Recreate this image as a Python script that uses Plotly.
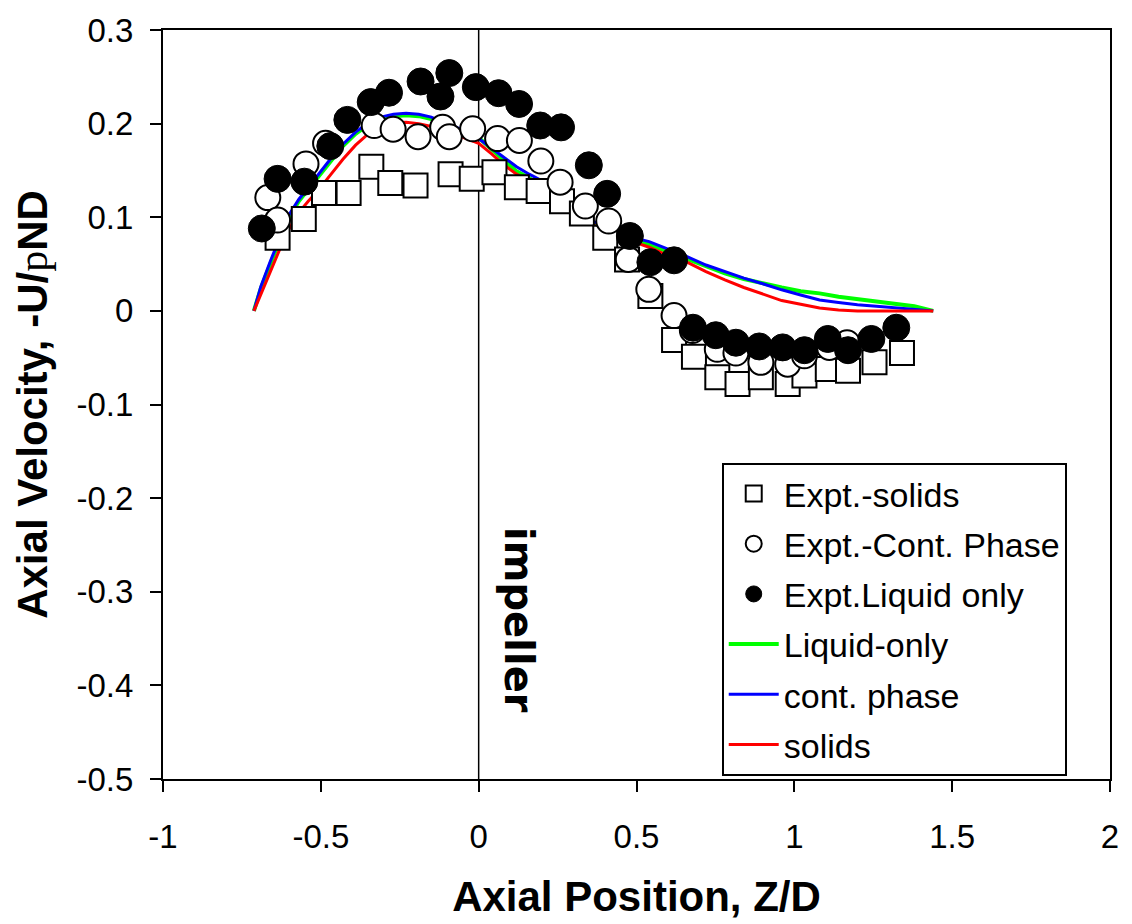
import plotly.graph_objects as go

# ---------------- data ----------------
solids_x = [-0.637, -0.554, -0.490, -0.412, -0.340, -0.280, -0.200, -0.089, -0.022, 0.050,
            0.121, 0.190, 0.264, 0.327, 0.401, 0.470, 0.544, 0.619, 0.682, 0.756,
            0.820, 0.894, 0.979, 1.032, 1.106, 1.170, 1.254, 1.341]
solids_y = [0.078, 0.098, 0.126, 0.126, 0.154, 0.1365, 0.134, 0.146, 0.141, 0.148,
            0.132, 0.128, 0.117, 0.104, 0.078, 0.055, 0.016, -0.031, -0.049, -0.071,
            -0.078, -0.071, -0.078, -0.069, -0.062, -0.064, -0.055, -0.045]

cont_x = [-0.668, -0.637, -0.547, -0.485, -0.331, -0.271, -0.192, -0.114, -0.093, -0.019,
          0.060, 0.129, 0.197, 0.258, 0.338, 0.412, 0.474, 0.539, 0.619, 0.677,
          0.756, 0.815, 0.894, 0.979, 1.032, 1.111, 1.167]
cont_y = [0.121, 0.097, 0.157, 0.179, 0.198, 0.194, 0.186, 0.196, 0.186, 0.1945,
          0.184, 0.182, 0.160, 0.1375, 0.112, 0.096, 0.055, 0.023, -0.005, -0.021,
          -0.041, -0.045, -0.055, -0.057, -0.048, -0.039, -0.034]

liq_x = [-0.687, -0.637, -0.552, -0.470, -0.416, -0.342, -0.284, -0.184, -0.121, -0.093,
         -0.009, 0.063, 0.128, 0.195, 0.261, 0.349, 0.407, 0.479, 0.544, 0.619,
         0.679, 0.751, 0.815, 0.889, 0.963, 1.032, 1.106, 1.170, 1.244, 1.323]
liq_y = [0.088, 0.141, 0.138, 0.176, 0.204, 0.223, 0.233, 0.245, 0.229, 0.254,
         0.239, 0.2325, 0.221, 0.198, 0.196, 0.1555, 0.125, 0.080, 0.052, 0.054,
         -0.018, -0.026, -0.034, -0.038, -0.039, -0.042, -0.030, -0.042, -0.030, -0.018]

sim_x = [-0.712, -0.69, -0.66, -0.63, -0.6, -0.57, -0.54, -0.51, -0.47, -0.43,
         -0.39, -0.35, -0.31, -0.27, -0.23, -0.19, -0.15, -0.11, -0.07, -0.03,
         0.0, 0.04, 0.08, 0.12, 0.16, 0.2, 0.25, 0.3, 0.36, 0.42,
         0.48, 0.54, 0.6, 0.66, 0.72, 0.78, 0.84, 0.9, 0.96, 1.02,
         1.08, 1.14, 1.2, 1.26, 1.32, 1.38, 1.44]
sim_liquid_y = [0.0, 0.024, 0.050, 0.076, 0.100, 0.117, 0.130, 0.143, 0.160, 0.176,
                0.189, 0.199, 0.205, 0.208, 0.209, 0.208, 0.205, 0.200, 0.195, 0.190,
                0.185, 0.173, 0.160, 0.149, 0.142, 0.133, 0.120, 0.106, 0.094, 0.085,
                0.077, 0.071, 0.063, 0.055, 0.047, 0.040, 0.034, 0.029, 0.025, 0.021,
                0.0187, 0.015, 0.0125, 0.011, 0.008, 0.005, 0.0]
sim_cont_y = [0.0, 0.026, 0.053, 0.079, 0.103, 0.119, 0.132, 0.145, 0.162, 0.178,
              0.191, 0.201, 0.207, 0.210, 0.211, 0.210, 0.207, 0.201, 0.196, 0.190,
              0.184, 0.174, 0.164, 0.154, 0.146, 0.139, 0.124, 0.109, 0.096, 0.087,
              0.079, 0.074, 0.066, 0.058, 0.049, 0.042, 0.035, 0.029, 0.0225, 0.017,
              0.0116, 0.009, 0.0065, 0.005, 0.0035, 0.002, 0.0]
sim_solids_y = [0.0, 0.018, 0.042, 0.066, 0.088, 0.105, 0.117, 0.128, 0.145, 0.162,
                0.177, 0.189, 0.197, 0.201, 0.2015, 0.200, 0.197, 0.193, 0.188, 0.183,
                0.179, 0.168, 0.156, 0.146, 0.139, 0.131, 0.118, 0.104, 0.092, 0.083,
                0.075, 0.068, 0.059, 0.052, 0.042, 0.033, 0.025, 0.018, 0.011, 0.007,
                0.003, 0.001, 0.0, 0.0, 0.0, 0.0, 0.0]

x_tickvals = [-1, -0.5, 0, 0.5, 1, 1.5, 2]
x_ticktext = ["-1", "-0.5", "0", "0.5", "1", "1.5", "2"]
y_tickvals = [0.3, 0.2, 0.1, 0, -0.1, -0.2, -0.3, -0.4, -0.5]
y_ticktext = ["0.3", "0.2", "0.1", "0", "-0.1", "-0.2", "-0.3", "-0.4", "-0.5"]

FONT = "Arial, 'Liberation Sans', sans-serif"

fig = go.Figure()

# simulation lines (drawn first, so markers sit on top)
fig.add_trace(go.Scatter(x=sim_x, y=sim_liquid_y, mode="lines", name="Liquid-only",
                         legendgroup="d", legendrank=4,
                         line=dict(color="#00ff00", width=4)))
fig.add_trace(go.Scatter(x=sim_x, y=sim_cont_y, mode="lines", name="cont. phase",
                         legendgroup="e", legendrank=5,
                         line=dict(color="#0000ff", width=3)))
fig.add_trace(go.Scatter(x=sim_x, y=sim_solids_y, mode="lines", name="solids",
                         legendgroup="f", legendrank=6,
                         line=dict(color="#ff0000", width=3)))

# experimental markers
fig.add_trace(go.Scatter(x=solids_x, y=solids_y, mode="markers", name="Expt.-solids",
                         legendgroup="a", legendrank=1,
                         marker=dict(symbol="square", size=24, color="white",
                                     line=dict(color="black", width=2))))
fig.add_trace(go.Scatter(x=cont_x, y=cont_y, mode="markers", name="Expt.-Cont. Phase",
                         legendgroup="b", legendrank=2,
                         marker=dict(symbol="circle", size=25, color="white",
                                     line=dict(color="black", width=2))))
fig.add_trace(go.Scatter(x=liq_x, y=liq_y, mode="markers", name="Expt.Liquid only",
                         legendgroup="c", legendrank=3,
                         marker=dict(symbol="circle", size=27, color="black",
                                     line=dict(color="black", width=1))))

# impeller line
fig.add_shape(type="line", xref="x", yref="y", x0=0, x1=0, y0=-0.5, y1=0.3,
              line=dict(color="black", width=1.5), layer="below")

fig.add_annotation(x=0.127, y=-0.33, xref="x", yref="y", text="<b>impeller</b>",
                   textangle=90, showarrow=False,
                   font=dict(family="'DejaVu Sans', sans-serif", size=40, color="black"))

fig.update_layout(
    width=1132, height=924,
    margin=dict(l=163, r=22, t=22, b=144),
    paper_bgcolor="white", plot_bgcolor="white",
    font=dict(family=FONT, color="black"),
    showlegend=True,
    legend=dict(x=0.59, y=0.422, xanchor="left", yanchor="top",
                bgcolor="white", bordercolor="black", borderwidth=2,
                font=dict(family=FONT, size=34, color="black"),
                traceorder="grouped", tracegroupgap=3, itemwidth=50),
)

fig.update_xaxes(range=[-1, 2], tickvals=x_tickvals, ticktext=x_ticktext,
                 showgrid=False, zeroline=False, showline=True, linecolor="black",
                 linewidth=2, mirror=True, ticks="outside", ticklen=11, tickwidth=2,
                 tickcolor="black", tickfont=dict(family=FONT, size=33),
                 ticklabelstandoff=16,
                 title=dict(text="<b>Axial Position, Z/D</b>", standoff=28,
                            font=dict(family=FONT, size=42)))
fig.update_yaxes(range=[-0.5, 0.3], tickvals=y_tickvals, ticktext=y_ticktext,
                 showgrid=False, zeroline=False, showline=True, linecolor="black",
                 linewidth=2, mirror=True, ticks="outside", ticklen=11, tickwidth=2,
                 tickcolor="black", tickfont=dict(family=FONT, size=33),
                 ticklabelstandoff=10,
                 title=dict(text="<b>Axial Velocity, -U/<span style=\"font-family:'Liberation Serif',serif;font-weight:normal\">p</span>ND</b>",
                            standoff=16, font=dict(family=FONT, size=42)))

fig.write_html("out.html")
